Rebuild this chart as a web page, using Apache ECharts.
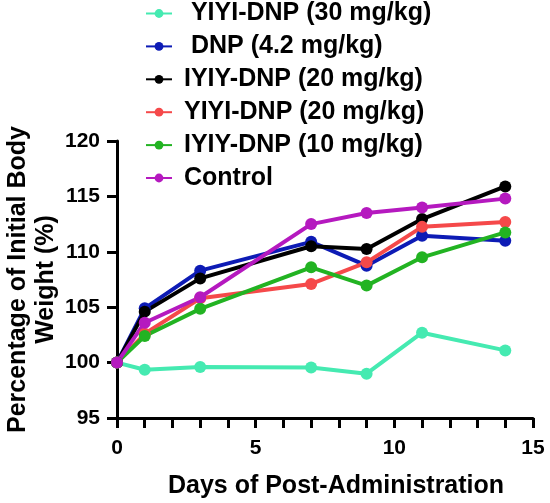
<!DOCTYPE html>
<html><head><meta charset="utf-8">
<script src="https://cdn.jsdelivr.net/npm/echarts@6/dist/echarts.min.js"></script>
<style>html,body{margin:0;padding:0;background:#fff}#c{width:550px;height:503px}</style>
</head><body><div id="c"></div>
<script>
const days = [0, 1, 3, 7, 9, 11, 14];
const seriesNames = ['YIYI-DNP (30 mg/kg)', 'DNP (4.2 mg/kg)', 'IYIY-DNP (20 mg/kg)', 'YIYI-DNP (20 mg/kg)', 'IYIY-DNP (10 mg/kg)', 'Control'];
const yiyi30 = [100, 99.35, 99.6, 99.55, 99.0, 102.7, 101.1];
const dnp42 = [100, 104.9, 108.3, 110.9, 108.75, 111.45, 111.0];
const iyiy20 = [100, 104.6, 107.6, 110.5, 110.25, 112.95, 115.9];
const yiyi20 = [100, 102.6, 105.8, 107.1, 109.05, 112.25, 112.7];
const iyiy10 = [100, 102.4, 104.85, 108.6, 106.95, 109.5, 111.75];
const control = [100, 103.6, 105.9, 112.5, 113.5, 114.0, 114.8];
const colors = ['#45EAB1', '#0D1BB5', '#000000', '#F5494A', '#22B322', '#B519BF'];
const xTicks = [0, 5, 10, 15];
const yTicks = [95, 100, 105, 110, 115, 120];

const allData = [yiyi30, dnp42, iyiy20, yiyi20, iyiy10, control];
const font = 'Arial, "Liberation Sans", sans-serif';
const chart = echarts.init(document.getElementById('c'));
chart.setOption({
  animation: false,
  color: colors,
  grid: { left: 117, right: 17, top: 141, bottom: 85, containLabel: false, outerBoundsMode: 'none' },
  legend: {
    orient: 'vertical', left: 145, top: 1, padding: 0, itemGap: 7.9, itemWidth: 26, itemHeight: 11,
    textStyle: { fontFamily: font, fontWeight: 'bold', fontSize: 25, color: '#000', padding: [0, 0, 0, 7] },
    formatter: function (n) { return (n === seriesNames[0] || n === seriesNames[1]) ? ' ' + n : n; },
    data: seriesNames
  },
  xAxis: {
    type: 'value', min: xTicks[0], max: xTicks[xTicks.length - 1], interval: 5,
    name: 'Days of Post-Administration', nameLocation: 'middle', nameGap: 56, nameMoveOverlap: false,
    nameTextStyle: { fontFamily: font, fontWeight: 'bold', fontSize: 25, color: '#000', padding: [0, 0, 0, 22] },
    axisLine: { lineStyle: { color: '#000', width: 3 } },
    axisTick: { show: true, length: 10, lineStyle: { color: '#000', width: 3 } },
    minorTick: { show: true, splitNumber: 5, length: 10, lineStyle: { color: '#000', width: 3 } },
    axisLabel: { fontFamily: font, fontWeight: 'bold', fontSize: 21, color: '#000', margin: 20 },
    splitLine: { show: false }
  },
  yAxis: {
    type: 'value', min: yTicks[0], max: yTicks[yTicks.length - 1], interval: 5,
    name: 'Percentage of Initial Body\nWeight (%)', nameLocation: 'middle', nameGap: 57, nameMoveOverlap: false,
    nameTextStyle: { fontFamily: font, fontWeight: 'bold', fontSize: 25, color: '#000', lineHeight: 28 },
    axisLine: { show: true, lineStyle: { color: '#000', width: 3 } },
    axisTick: { show: true, length: 10, lineStyle: { color: '#000', width: 3 } },
    axisLabel: { fontFamily: font, fontWeight: 'bold', fontSize: 21, color: '#000', margin: 17 },
    splitLine: { show: false }
  },
  series: seriesNames.map((n, i) => ({
    name: n, type: 'line', symbol: 'circle', symbolSize: 12,
    lineStyle: { width: 4 },
    data: days.map((d, j) => [d, allData[i][j]])
  }))
});
</script></body></html>
